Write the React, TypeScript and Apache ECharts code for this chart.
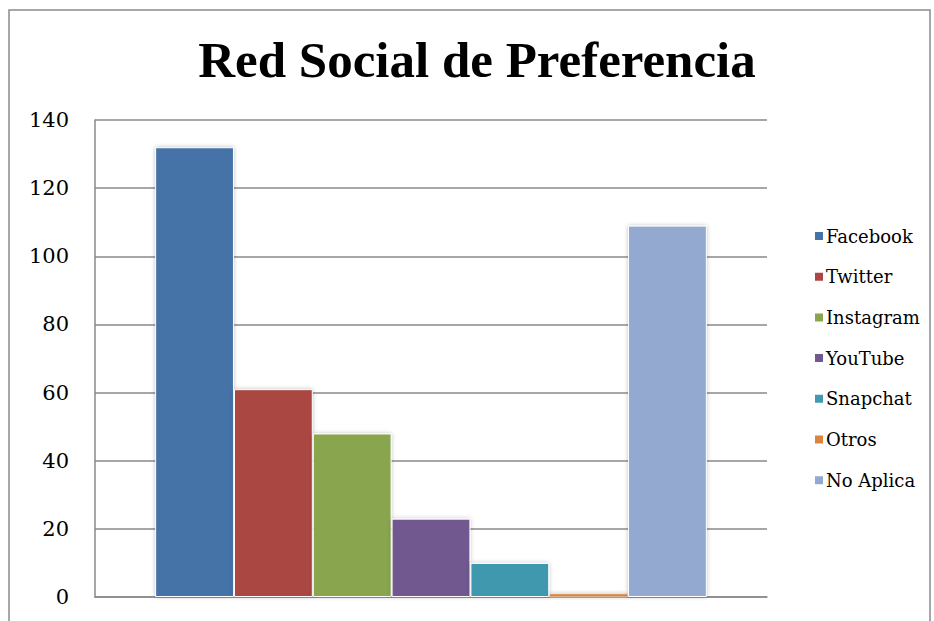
import React, { useEffect, useRef } from "react";
import * as echarts from "echarts";

const title = "Red Social de Preferencia";
const seriesNames = ["Facebook", "Twitter", "Instagram", "YouTube", "Snapchat", "Otros", "No Aplica"];
const seriesValues = [132, 61, 48, 23, 10, 1, 109];
const seriesColors = ["#4572A7", "#AA4643", "#89A54E", "#71588F", "#4198AF", "#DB843D", "#93A9CF"];
const categories = [""];
const yTicks = { min: 0, max: 140, interval: 20 };

export default function App() {
  const ref = useRef<HTMLDivElement>(null);
  useEffect(() => {
    if (!ref.current) return;
    const chart = echarts.init(ref.current, null, { renderer: "svg" });
    chart.setOption({
      animation: false,
      backgroundColor: "#ffffff",
      title: {
        text: title,
        left: 472,
        textAlign: "center",
        top: 29,
        textStyle: { fontFamily: "Liberation Serif", fontWeight: "bold", fontSize: 51, color: "#000" },
      },
      graphic: [
        {
          type: "rect",
          shape: { x: 9, y: 10, width: 921, height: 700 },
          style: { fill: "none", stroke: "#8a8a8a", lineWidth: 1.5 },
          silent: true,
          z: -1,
        },
      ],
      legend: {
        orient: "vertical",
        left: 808,
        top: 221,
        itemWidth: 10,
        itemHeight: 10,
        itemGap: 20.7,
        icon: "rect",
        textStyle: { fontFamily: "DejaVu Serif", fontSize: 18, color: "#000", lineHeight: 20, padding: [0, 0, 0, -3] },
        data: seriesNames,
      },
      grid: { left: 95, right: 167, top: 120, bottom: 24 },
      xAxis: {
        type: "category",
        data: categories,
        axisLine: { show: true, lineStyle: { color: "#8a8a8a", width: 1.5 } },
        axisTick: { show: false },
        axisLabel: { show: false },
      },
      yAxis: {
        type: "value",
        min: yTicks.min,
        max: yTicks.max,
        interval: yTicks.interval,
        axisLine: { show: true, lineStyle: { color: "#8a8a8a", width: 1.5 } },
        axisTick: { show: false },
        axisLabel: { fontFamily: "DejaVu Serif", fontSize: 21, color: "#000", margin: 26 },
        splitLine: { lineStyle: { color: "#8a8a8a", width: 1.5 } },
      },
      series: seriesNames.map((name, i) => ({
        name,
        type: "bar",
        data: [seriesValues[i]],
        barGap: "0%",
        barCategoryGap: "17.9%",
        itemStyle: {
          color: seriesColors[i],
          borderColor: "#ffffff",
          borderWidth: seriesValues[i] < 3 ? 0.5 : 1,
          shadowBlur: 4,
          shadowColor: "rgba(0,0,0,0.25)",
        },
      })),
    });
    return () => chart.dispose();
  }, []);
  return (
    <div
      ref={ref}
      style={{ position: "absolute", left: 0, top: 0, width: 934, height: 621 }}
    />
  );
}
